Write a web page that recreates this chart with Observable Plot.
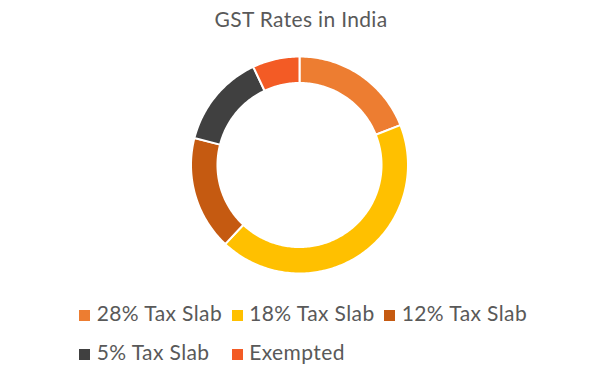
<!DOCTYPE html>
<html><head><meta charset="utf-8">
<script src="https://cdn.jsdelivr.net/npm/d3@7"></script>
<script src="https://cdn.jsdelivr.net/npm/@observablehq/plot@0.6"></script>
<style>
body{margin:0;background:#fff;font-family:Lato,"Open Sans",sans-serif;color:#595959}
#wrap{position:relative;width:602px;height:382px;overflow:hidden;background:#fff}
#title{position:absolute;left:0;top:8px;width:602px;text-align:center;font-size:21px;letter-spacing:0.33px;line-height:1;white-space:nowrap}
#chart{position:absolute;left:0;top:40px}
.item{position:absolute;font-size:21px;letter-spacing:0.4px;line-height:1;white-space:nowrap}
.sw{position:absolute;width:11px;height:11px}
</style></head><body>
<div id="wrap">
  <div id="title">GST Rates in India</div>
  <div id="chart"></div>
  <div id="legend"></div>
</div>
<script>
const categories = ["28% Tax Slab", "18% Tax Slab", "12% Tax Slab", "5% Tax Slab", "Exempted"];
const shares = [19, 43, 17, 14, 7];
const colors = ["#ED7D31", "#FFC000", "#C55A11", "#404040", "#F35B25"];
const chartTitle = "GST Rates in India";

document.getElementById("title").textContent = chartTitle;

const innerRatio = 0.756;
const total = d3.sum(shares);
const pts = [];
let acc = 0;
categories.forEach((c, i) => {
  const a0 = acc / total * 2 * Math.PI;
  acc += shares[i];
  const a1 = acc / total * 2 * Math.PI;
  const n = Math.max(8, Math.ceil((a1 - a0) / (Math.PI / 180)));
  for (let k = 0; k <= n; k++) {
    const a = a0 + (a1 - a0) * k / n;
    pts.push({cat: c, x: Math.sin(a), y: Math.cos(a)});
  }
  for (let k = n; k >= 0; k--) {
    const a = a0 + (a1 - a0) * k / n;
    pts.push({cat: c, x: innerRatio * Math.sin(a), y: innerRatio * Math.cos(a)});
  }
});

const cx = 299, cy = 124.5, R = 108.5;
const plot = Plot.plot({
  width: 602, height: 250,
  margin: 0,
  x: {domain: [-1, 1], range: [cx - R, cx + R], axis: null},
  y: {domain: [-1, 1], range: [cy + R, cy - R], axis: null},
  color: {domain: categories, range: colors},
  marks: [
    Plot.line(pts, {x: "x", y: "y", z: "cat", fill: "cat", stroke: "#fff", strokeWidth: 2, curve: "linear-closed"})
  ]
});
document.getElementById("chart").appendChild(plot);

const legend = document.getElementById("legend");
const colX = [79, 231.5, 384];
const rowTop = [302.4, 341.4];
categories.forEach((c, i) => {
  const row = i < 3 ? 0 : 1, col = i < 3 ? i : i - 3;
  const sw = document.createElement("div");
  sw.className = "sw";
  sw.style.background = colors[i];
  sw.style.left = colX[col] + "px";
  sw.style.top = (rowTop[row] + 7.5) + "px";
  legend.appendChild(sw);
  const t = document.createElement("div");
  t.className = "item";
  t.textContent = c;
  t.style.left = (colX[col] + 17.7) + "px";
  t.style.top = rowTop[row] + "px";
  legend.appendChild(t);
});
</script>
</body></html>
